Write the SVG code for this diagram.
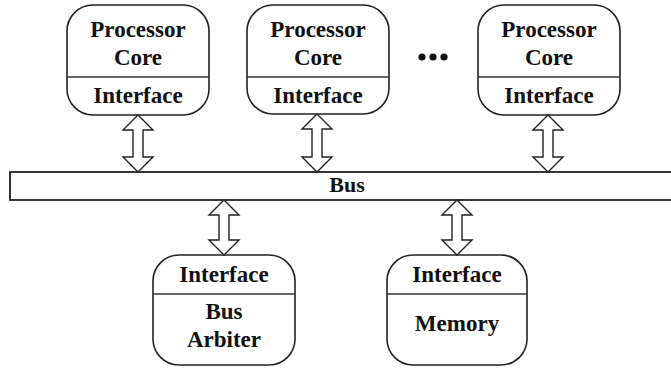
<svg xmlns="http://www.w3.org/2000/svg" width="671" height="372" viewBox="0 0 671 372">
  <defs>
    <style>
      .box { fill: #ffffff; stroke: #222222; stroke-width: 1.6; }
      .div { stroke: #333333; stroke-width: 1.6; }
      .lbl { font-family: "Liberation Serif", "Times New Roman", serif; font-weight: bold; font-size: 23px; fill: #111111; text-anchor: middle; }
      .bus { fill: #ffffff; stroke: #222222; stroke-width: 1.8; }
      .arrow { fill: #ffffff; stroke: #222222; stroke-width: 1.4; stroke-linejoin: miter; }
    </style>
  </defs>

  <!-- shared bus -->
  <g id="bus">
    <rect class="bus" x="10" y="172" width="680" height="28"/>
    <text class="lbl" x="347" y="192" style="font-size:22px">Bus</text>
  </g>

  <!-- processor cores -->
  <g id="core1">
    <rect class="box" x="67" y="5" width="142" height="110" rx="26" ry="26"/>
    <line class="div" x1="67" y1="77" x2="209" y2="77"/>
    <text class="lbl" x="138" y="37">Processor</text>
    <text class="lbl" x="138" y="65">Core</text>
    <text class="lbl" x="138" y="103">Interface</text>
  </g>
  <g id="core2">
    <rect class="box" x="247" y="5" width="142" height="109" rx="26" ry="26"/>
    <line class="div" x1="247" y1="77" x2="389" y2="77"/>
    <text class="lbl" x="318" y="37">Processor</text>
    <text class="lbl" x="318" y="65">Core</text>
    <text class="lbl" x="318" y="103">Interface</text>
  </g>
  <g id="ellipsis">
    <circle cx="422" cy="57" r="3.6" fill="#111111"/>
    <circle cx="433" cy="57" r="3.6" fill="#111111"/>
    <circle cx="444" cy="57" r="3.6" fill="#111111"/>
  </g>
  <g id="core3">
    <rect class="box" x="478" y="5" width="142" height="110" rx="26" ry="26"/>
    <line class="div" x1="478" y1="77" x2="620" y2="77"/>
    <text class="lbl" x="549" y="37">Processor</text>
    <text class="lbl" x="549" y="65">Core</text>
    <text class="lbl" x="549" y="103">Interface</text>
  </g>

  <!-- bus arbiter and memory -->
  <g id="arbiter">
    <rect class="box" x="153" y="255" width="142" height="110" rx="26" ry="26"/>
    <line class="div" x1="153" y1="294" x2="295" y2="294"/>
    <text class="lbl" x="224" y="282">Interface</text>
    <text class="lbl" x="224" y="319">Bus</text>
    <text class="lbl" x="224" y="347">Arbiter</text>
  </g>
  <g id="memory">
    <rect class="box" x="387" y="255" width="140" height="110" rx="26" ry="26"/>
    <line class="div" x1="387" y1="294" x2="527" y2="294"/>
    <text class="lbl" x="457" y="282">Interface</text>
    <text class="lbl" x="457" y="331">Memory</text>
  </g>

  <!-- bidirectional links -->
  <g id="connectors">
    <path class="arrow" d="M138,115 L153,130 L143,130 L143,157 L153,157 L138,172 L123,157 L133,157 L133,130 L123,130 Z"/>
    <path class="arrow" d="M317,114 L332,129 L322,129 L322,157 L332,157 L317,172 L302,157 L312,157 L312,129 L302,129 Z"/>
    <path class="arrow" d="M548,115 L563,130 L553,130 L553,157 L563,157 L548,172 L533,157 L543,157 L543,130 L533,130 Z"/>
    <path class="arrow" d="M224,200 L239,215 L229,215 L229,240 L239,240 L224,255 L209,240 L219,240 L219,215 L209,215 Z"/>
    <path class="arrow" d="M457,200 L472,215 L462,215 L462,240 L472,240 L457,255 L442,240 L452,240 L452,215 L442,215 Z"/>
  </g>
</svg>
